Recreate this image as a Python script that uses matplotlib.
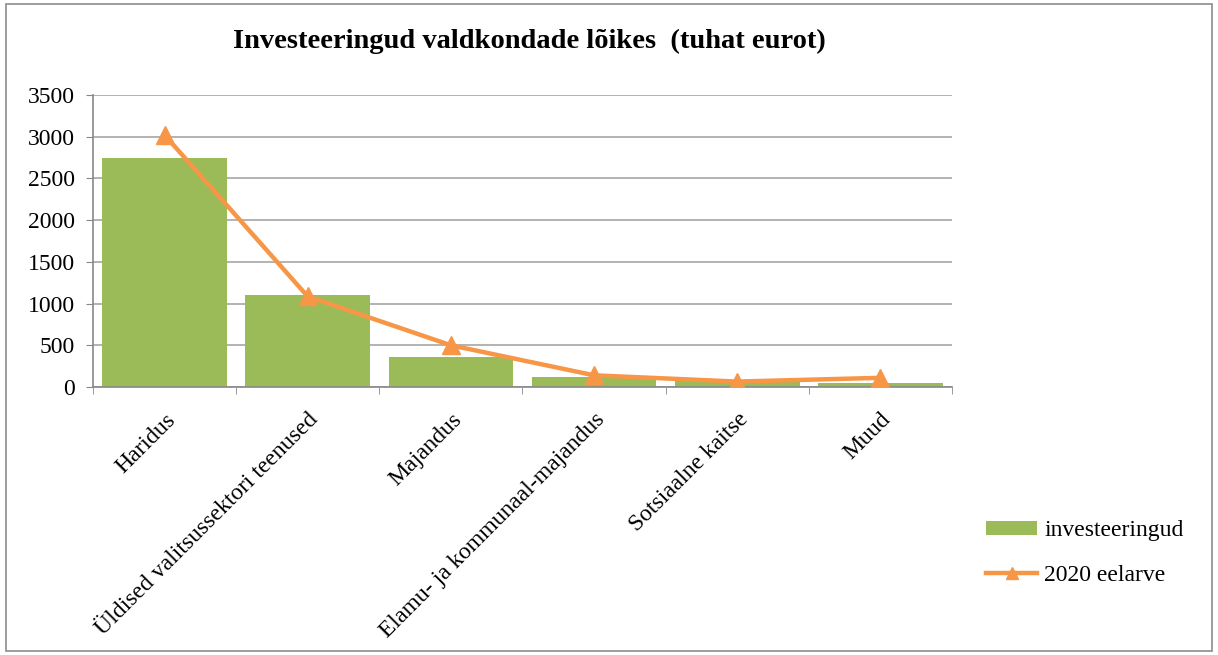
import matplotlib
matplotlib.use("Agg")
import matplotlib.pyplot as plt
from matplotlib.patches import Rectangle, Patch
from matplotlib.lines import Line2D
import numpy as np

categories = ["Haridus", "Üldised valitsussektori teenused", "Majandus",
              "Elamu- ja kommunaal-majandus", "Sotsiaalne kaitse", "Muud"]
investeeringud = [2740, 1100, 355, 125, 70, 50]
eelarve_2020 = [3020, 1085, 500, 140, 65, 110]
yticks = [0, 500, 1000, 1500, 2000, 2500, 3000, 3500]

bar_color = '#9BBB59'
line_color = '#F79646'

plt.rcParams['font.family'] = ['Liberation Serif', 'DejaVu Serif']

fig = plt.figure(figsize=(12.18, 6.55), dpi=100)
ax = fig.add_axes([93/1218, 1-387/655, (952-93)/1218, (387-95)/655])

x = np.arange(len(categories))
ax.bar(x, investeeringud, width=0.87, color=bar_color, zorder=2)
ax.plot(x, eelarve_2020, color=line_color, lw=3.2, marker='^', markersize=13, zorder=3)

ax.set_xlim(-0.5, len(categories)-0.5)
ax.set_ylim(0, 3500)
ax.set_yticks(yticks)
ax.set_yticklabels([str(v) for v in yticks], fontsize=17)
ax.yaxis.grid(True, color='#A6A6A6', lw=1.2, zorder=0)
ax.set_axisbelow(True)

ax.set_xticks(x)
ax.set_xticklabels(categories, rotation=45, ha='right', rotation_mode='anchor', fontsize=17)
ax.tick_params(axis='x', length=0, pad=16)
ax.set_xticks(np.arange(-0.5, len(categories)), minor=True)
ax.tick_params(axis='x', which='minor', length=5, color='#888888', direction='out')
ax.tick_params(axis='y', length=5, color='#888888', direction='out', pad=8)

for s in ['top', 'right']:
    ax.spines[s].set_visible(False)
for s in ['left', 'bottom']:
    ax.spines[s].set_color('#888888')
    ax.spines[s].set_linewidth(1.2)

fig.text(529/1218, 1-41/655, "Investeeringud valdkondade lõikes  (tuhat eurot)",
         ha='center', va='center', fontsize=20.5, fontweight='bold')

handles = [Patch(facecolor=bar_color, edgecolor='none'),
           Line2D([], [], color=line_color, lw=3.2, marker='^', markersize=8)]
labels = ['investeeringud', '2020 eelarve']
fig.legend(handles, labels, loc='upper left', bbox_to_anchor=(965/1218, 1-499/655), frameon=False,
           fontsize=17, handlelength=2.15, handleheight=0.55, labelspacing=1.0, handletextpad=0.3)

fig.patches.append(Rectangle((6/1218, 4/655), 1206/1218, 647/655, transform=fig.transFigure,
                             fill=False, edgecolor='#8C8C8C', lw=1.2))

fig.savefig("out.png", dpi=100)
